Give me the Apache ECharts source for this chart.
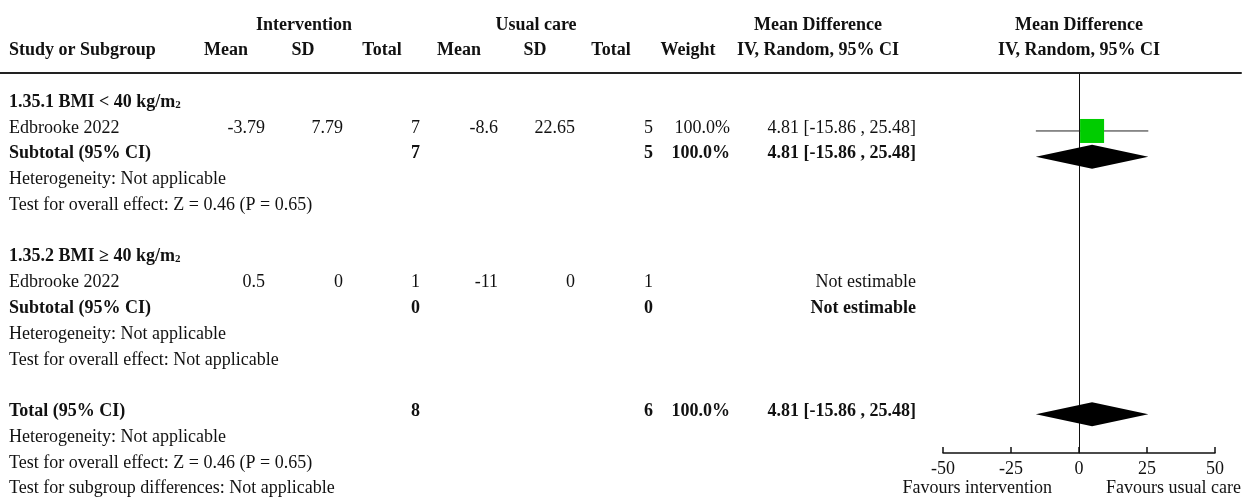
<!DOCTYPE html>
<html>
<head>
<meta charset="utf-8">
<script src="https://cdn.jsdelivr.net/npm/echarts@6/dist/echarts.min.js"></script>
<style>
  html, body { margin: 0; padding: 0; background: #fff; }
  #chart { width: 1249px; height: 497px; }
</style>
</head>
<body>
<div id="chart"></div>
<script>
// left hand labels, one per row (top to bottom)
const rowLabels = [
  '1.35.1 BMI < 40 kg/m{sub|2}',
  'Edbrooke 2022',
  'Subtotal (95% CI)',
  'Heterogeneity: Not applicable',
  'Test for overall effect: Z = 0.46 (P = 0.65)',
  '',
  '1.35.2 BMI \u2265 40 kg/m{sub|2}',
  'Edbrooke 2022',
  'Subtotal (95% CI)',
  'Heterogeneity: Not applicable',
  'Test for overall effect: Not applicable',
  '',
  'Total (95% CI)',
  'Heterogeneity: Not applicable',
  'Test for overall effect: Z = 0.46 (P = 0.65)',
  'Test for subgroup differences: Not applicable'
];
const boldRows = [0, 2, 6, 8, 12];

// single studies
const studyRows = [1, 7];
const intMean = [-3.79, 0.5];
const intSD = [7.79, 0];
const intTotal = [7, 1];
const ucMean = [-8.6, -11];
const ucSD = [22.65, 0];
const ucTotal = [5, 1];
const studyWeight = ['100.0%', ''];
const studyMD = [4.81, null];
const studyLo = [-15.86, null];
const studyHi = [25.48, null];

// subtotals / total
const sumRows = [2, 8, 12];
const sumIntTotal = [7, 0, 8];
const sumUcTotal = [5, 0, 6];
const sumWeight = ['100.0%', '', '100.0%'];
const sumMD = [4.81, null, 4.81];
const sumLo = [-15.86, null, -15.86];
const sumHi = [25.48, null, 25.48];

const xTicks = [-50, -25, 0, 25, 50];
const favours = ['Favours intervention', 'Favours usual care'];

// layout (table x positions are in pixels of the table grid)
const FONT = '"Liberation Serif", "Times New Roman", serif';
const colRight = [265, 343, 420, 498, 575, 653, 730, 916];
const TEXT_DY = -3;

const ciText = (m, l, h) => m == null ? 'Not estimable' : `${m.toFixed(2)} [${l.toFixed(2)} , ${h.toFixed(2)}]`;

const cells = [];
const add = (x, row, text, bold, align) => cells.push({x, row, text: String(text), bold, align});

// headers
add(304, -3, 'Intervention', true, 'center');
add(536, -3, 'Usual care', true, 'center');
add(818, -3, 'Mean Difference', true, 'center');
add(1079, -3, 'Mean Difference', true, 'center');
add(9, -2, 'Study or Subgroup', true, 'left');
[['Mean', 226], ['SD', 303], ['Total', 382], ['Mean', 459], ['SD', 535], ['Total', 611], ['Weight', 688],
 ['IV, Random, 95% CI', 818], ['IV, Random, 95% CI', 1079]].forEach(([t, x]) => add(x, -2, t, true, 'center'));

rowLabels.forEach((t, r) => { if (t) add(9, r, t, boldRows.includes(r), 'left'); });

studyRows.forEach((r, i) => {
  add(colRight[0], r, intMean[i], false, 'right');
  add(colRight[1], r, intSD[i], false, 'right');
  add(colRight[2], r, intTotal[i], false, 'right');
  add(colRight[3], r, ucMean[i], false, 'right');
  add(colRight[4], r, ucSD[i], false, 'right');
  add(colRight[5], r, ucTotal[i], false, 'right');
  if (studyWeight[i]) add(colRight[6], r, studyWeight[i], false, 'right');
  add(colRight[7], r, ciText(studyMD[i], studyLo[i], studyHi[i]), false, 'right');
});
sumRows.forEach((r, i) => {
  add(colRight[2], r, sumIntTotal[i], true, 'right');
  add(colRight[5], r, sumUcTotal[i], true, 'right');
  if (sumWeight[i]) add(colRight[6], r, sumWeight[i], true, 'right');
  add(colRight[7], r, ciText(sumMD[i], sumLo[i], sumHi[i]), true, 'right');
});
add(1052, 15, favours[0], false, 'right');
add(1241, 15, favours[1], false, 'right');

const studyData = studyRows.map((r, i) => [studyMD[i], studyLo[i], studyHi[i], r]).filter(d => d[0] != null);
const sumData = sumRows.map((r, i) => [sumMD[i], sumLo[i], sumHi[i], r]).filter(d => d[0] != null);

const chart = echarts.init(document.getElementById('chart'));
chart.setOption({
  animation: false,
  grid: [
    {left: 0, right: 8, top: 73, bottom: 44},
    {left: 943, right: 34, top: 73, bottom: 44}
  ],
  xAxis: [
    {
      gridIndex: 0, type: 'value', position: 'top', min: 0, max: 1241,
      axisLine: {show: true, onZero: false, lineStyle: {color: '#222', width: 2}},
      axisTick: {show: false}, axisLabel: {show: false}, splitLine: {show: false}
    },
    {
      gridIndex: 1, type: 'value', position: 'bottom', min: -50, max: 50, interval: 25,
      axisLine: {show: true, onZero: false, lineStyle: {color: '#111', width: 1.5}},
      axisTick: {show: true, inside: true, length: 6, lineStyle: {color: '#111', width: 1.5}},
      axisLabel: {color: '#111', fontFamily: FONT, fontSize: 18, margin: 7,
        customValues: xTicks},
      splitLine: {show: false}
    }
  ],
  yAxis: [
    {gridIndex: 0, type: 'value', min: -1.25, max: 13.5, inverse: true, show: false},
    {
      gridIndex: 1, type: 'value', min: -1.25, max: 13.5, inverse: true,
      axisLine: {show: true, onZero: true, lineStyle: {color: '#111', width: 1}},
      axisTick: {show: false}, axisLabel: {show: false}, splitLine: {show: false}
    }
  ],
  series: [
    {
      type: 'custom', xAxisIndex: 0, yAxisIndex: 0, clip: false, silent: true,
      data: cells.map((c, i) => [c.x, c.row, i]),
      renderItem(params, api) {
        const c = cells[params.dataIndex];
        const p = api.coord([c.x, c.row]);
        const w = c.bold ? 'bold ' : '';
        return {
          type: 'text', x: p[0], y: p[1] + TEXT_DY,
          style: {
            text: c.text,
            font: `${w}18px ${FONT}`,
            fill: '#111',
            align: c.align,
            verticalAlign: 'middle',
            rich: {
              sub: {fontFamily: FONT, fontWeight: 'bold', fontSize: 11, verticalAlign: 'bottom', padding: [0, 0, 1, 0]}
            }
          }
        };
      }
    },
    {
      type: 'custom', xAxisIndex: 1, yAxisIndex: 1, clip: false, silent: true,
      encode: {x: [0, 1, 2], y: 3},
      data: studyData,
      renderItem(params, api) {
        const r = api.value(3);
        const c = api.coord([api.value(0), r]);
        const a = api.coord([api.value(1), r]);
        const b = api.coord([api.value(2), r]);
        return {
          type: 'group',
          children: [
            {type: 'line', shape: {x1: a[0], y1: a[1], x2: b[0], y2: b[1]}, style: {stroke: '#222', lineWidth: 1}},
            {type: 'rect', shape: {x: c[0] - 12, y: c[1] - 12, width: 24, height: 24}, style: {fill: '#00cc00'}}
          ]
        };
      }
    },
    {
      type: 'custom', xAxisIndex: 1, yAxisIndex: 1, clip: false, silent: true,
      encode: {x: [0, 1, 2], y: 3},
      data: sumData,
      renderItem(params, api) {
        const r = api.value(3);
        const c = api.coord([api.value(0), r]);
        const a = api.coord([api.value(1), r]);
        const b = api.coord([api.value(2), r]);
        return {
          type: 'polygon',
          shape: {points: [[a[0], a[1]], [c[0], c[1] - 12], [b[0], b[1]], [c[0], c[1] + 12]]},
          style: {fill: '#000'}
        };
      }
    }
  ]
});
</script>
</body>
</html>
